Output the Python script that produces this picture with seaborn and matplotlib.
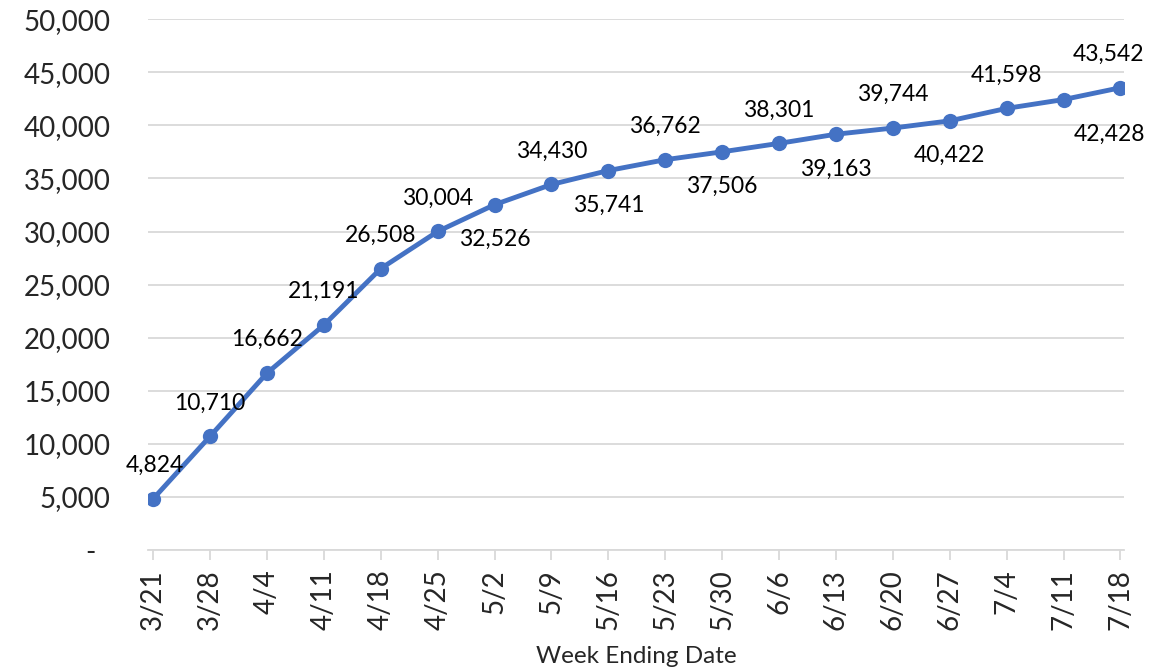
import numpy as np
import pandas as pd
import matplotlib
matplotlib.use("Agg")
import matplotlib.pyplot as plt
import seaborn as sns
from matplotlib.ticker import FuncFormatter, MultipleLocator

# weekly cumulative values
weeks = ["3/21", "3/28", "4/4", "4/11", "4/18", "4/25", "5/2", "5/9", "5/16",
         "5/23", "5/30", "6/6", "6/13", "6/20", "6/27", "7/4", "7/11", "7/18"]
values = [4824, 10710, 16662, 21191, 26508, 30004, 32526, 34430, 35741,
          36762, 37506, 38301, 39163, 39744, 40422, 41598, 42428, 43542]
# where each data label sits relative to its point
label_side = ["up", "up", "up", "up", "up", "up", "down", "up", "down",
              "up", "down", "up", "down", "up", "down", "up", "down", "up"]

df = pd.DataFrame({"pos": np.arange(len(weeks)), "week": weeks, "value": values})

sns.set_style("white")
plt.rcParams["font.family"] = ["Lato", "DejaVu Sans"]

blue = "#4472C4"
grid = "#D9D9D9"

fig = plt.figure(figsize=(11.75, 6.72), dpi=100)
ax = fig.add_axes([0.126, 0.1815, 0.831, 0.79])

sns.lineplot(data=df, x="pos", y="value", ax=ax, color=blue, linewidth=3.5,
             marker="o", markersize=11, markeredgewidth=0, zorder=3)

ax.set_xlim(-0.09, len(weeks) - 1 + 0.07)
ax.set_ylim(0, 50000)
ax.yaxis.set_major_locator(MultipleLocator(5000))
ax.yaxis.set_major_formatter(FuncFormatter(lambda v, p: "-  " if v == 0 else f"{v:,.0f}"))
ax.set_xticks(df["pos"])
ax.set_xticklabels(weeks, rotation=90)

ax.grid(axis="y", color=grid, linewidth=1.3)
ax.set_axisbelow(True)
for s in ["top", "right", "left"]:
    ax.spines[s].set_visible(False)
ax.spines["bottom"].set_color(grid)
ax.spines["bottom"].set_linewidth(1.3)

ax.tick_params(axis="y", length=0, pad=27, labelsize=20)
ax.tick_params(axis="x", length=7, width=1.3, color=grid, pad=7, labelsize=20,
               bottom=True)

ax.set_xlabel("Week Ending Date", fontsize=17.5, labelpad=11)
ax.set_ylabel("")

# data labels
for i, (v, side) in enumerate(zip(values, label_side)):
    dy = 24 if side == "up" else -25
    dx = 0
    if i == len(values) - 2:
        dx = 33
    elif i == len(values) - 1:
        dx = -9
    elif i == 0:
        dx = 1
    ax.annotate(f"{v:,}", (i, v), xytext=(dx, dy), textcoords="offset points",
                ha="center", va="center", fontsize=16.5, color="black")

fig.savefig("out.png", dpi=100)
